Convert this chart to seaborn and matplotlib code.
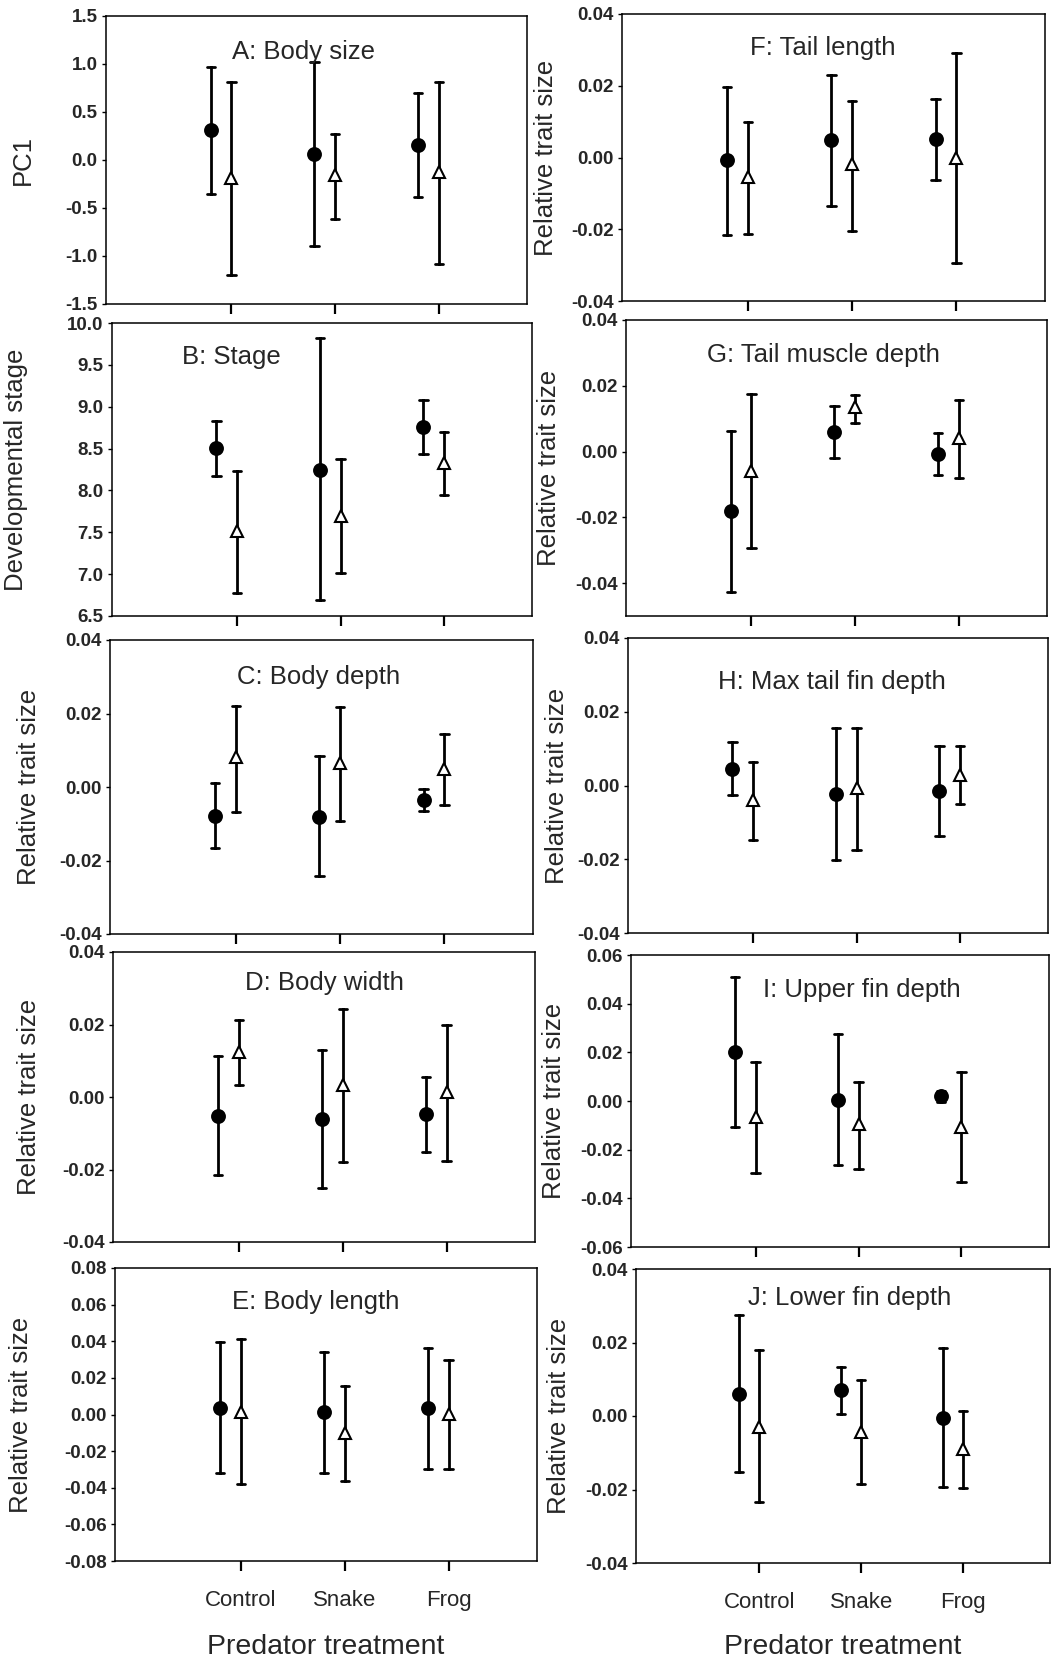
import numpy as np
import pandas as pd
import matplotlib
matplotlib.use("Agg")
import matplotlib.pyplot as plt
import seaborn as sns

# ---------------- data ----------------
categories = ["Control", "Snake", "Frog"]
groups = ["filled", "open"]

# A: Body size (PC1)
A_filled_mean = [0.31, 0.06, 0.16]
A_filled_low = [-0.35, -0.90, -0.39]
A_filled_high = [0.97, 1.02, 0.70]
A_open_mean = [-0.19, -0.16, -0.13]
A_open_low = [-1.20, -0.61, -1.08]
A_open_high = [0.81, 0.27, 0.81]

# B: Stage
B_filled_mean = [8.51, 8.25, 8.76]
B_filled_low = [8.17, 6.69, 8.43]
B_filled_high = [8.83, 9.82, 9.08]
B_open_mean = [7.51, 7.70, 8.33]
B_open_low = [6.77, 7.01, 7.94]
B_open_high = [8.23, 8.37, 8.70]

# C: Body depth
C_filled_mean = [-0.0078, -0.0081, -0.0036]
C_filled_low = [-0.0165, -0.0241, -0.0066]
C_filled_high = [0.0010, 0.0085, -0.0006]
C_open_mean = [0.0081, 0.0066, 0.0049]
C_open_low = [-0.0067, -0.0093, -0.0050]
C_open_high = [0.0220, 0.0217, 0.0143]

# D: Body width
D_filled_mean = [-0.0053, -0.0060, -0.0047]
D_filled_low = [-0.0216, -0.0250, -0.0151]
D_filled_high = [0.0113, 0.0130, 0.0056]
D_open_mean = [0.0124, 0.0033, 0.0013]
D_open_low = [0.0033, -0.0179, -0.0177]
D_open_high = [0.0213, 0.0243, 0.0199]

# E: Body length
E_filled_mean = [0.0036, 0.0012, 0.0036]
E_filled_low = [-0.0322, -0.0318, -0.0298]
E_filled_high = [0.0395, 0.0340, 0.0362]
E_open_mean = [0.0016, -0.0099, 0.0003]
E_open_low = [-0.0377, -0.0362, -0.0295]
E_open_high = [0.0413, 0.0158, 0.0298]

# F: Tail length
F_filled_mean = [-0.0008, 0.0048, 0.0051]
F_filled_low = [-0.0217, -0.0135, -0.0062]
F_filled_high = [0.0197, 0.0229, 0.0164]
F_open_mean = [-0.0055, -0.0019, 0.0000]
F_open_low = [-0.0212, -0.0204, -0.0295]
F_open_high = [0.0100, 0.0157, 0.0290]

# G: Tail muscle depth
G_filled_mean = [-0.0180, 0.0059, -0.0007]
G_filled_low = [-0.0428, -0.0020, -0.0071]
G_filled_high = [0.0064, 0.0140, 0.0056]
G_open_mean = [-0.0059, 0.0134, 0.0041]
G_open_low = [-0.0292, 0.0088, -0.0081]
G_open_high = [0.0174, 0.0172, 0.0157]

# H: Max tail fin depth
H_filled_mean = [0.0045, -0.0023, -0.0014]
H_filled_low = [-0.0025, -0.0202, -0.0136]
H_filled_high = [0.0117, 0.0155, 0.0106]
H_open_mean = [-0.0039, -0.0007, 0.0029]
H_open_low = [-0.0147, -0.0174, -0.0050]
H_open_high = [0.0065, 0.0155, 0.0106]

# I: Upper fin depth
I_filled_mean = [0.0203, 0.0004, 0.0021]
I_filled_low = [-0.0106, -0.0264, -0.0003]
I_filled_high = [0.0509, 0.0275, 0.0041]
I_open_mean = [-0.0065, -0.0096, -0.0106]
I_open_low = [-0.0294, -0.0278, -0.0333]
I_open_high = [0.0159, 0.0080, 0.0118]

# J: Lower fin depth
J_filled_mean = [0.0061, 0.0070, -0.0005]
J_filled_low = [-0.0153, 0.0006, -0.0193]
J_filled_high = [0.0275, 0.0133, 0.0184]
J_open_mean = [-0.0030, -0.0044, -0.0091]
J_open_low = [-0.0233, -0.0184, -0.0197]
J_open_high = [0.0180, 0.0097, 0.0013]

titles = {
    "A": "A: Body size", "B": "B: Stage", "C": "C: Body depth",
    "D": "D: Body width", "E": "E: Body length", "F": "F: Tail length",
    "G": "G: Tail muscle depth", "H": "H: Max tail fin depth",
    "I": "I: Upper fin depth", "J": "J: Lower fin depth",
}
ylabels = {"A": "PC1", "B": "Developmental stage"}
default_ylabel = "Relative trait size"
xlabel_text = "Predator treatment"

yticks_A = [-1.5, -1.0, -0.5, 0.0, 0.5, 1.0, 1.5]
yticks_B = [6.5, 7.0, 7.5, 8.0, 8.5, 9.0, 9.5, 10.0]
yticks_04 = [-0.04, -0.02, 0.00, 0.02, 0.04]
yticks_06 = [-0.06, -0.04, -0.02, 0.00, 0.02, 0.04, 0.06]
yticks_08 = [-0.08, -0.06, -0.04, -0.02, 0.00, 0.02, 0.04, 0.06, 0.08]

data = {
    "A": (A_filled_mean, A_filled_low, A_filled_high, A_open_mean, A_open_low, A_open_high),
    "B": (B_filled_mean, B_filled_low, B_filled_high, B_open_mean, B_open_low, B_open_high),
    "C": (C_filled_mean, C_filled_low, C_filled_high, C_open_mean, C_open_low, C_open_high),
    "D": (D_filled_mean, D_filled_low, D_filled_high, D_open_mean, D_open_low, D_open_high),
    "E": (E_filled_mean, E_filled_low, E_filled_high, E_open_mean, E_open_low, E_open_high),
    "F": (F_filled_mean, F_filled_low, F_filled_high, F_open_mean, F_open_low, F_open_high),
    "G": (G_filled_mean, G_filled_low, G_filled_high, G_open_mean, G_open_low, G_open_high),
    "H": (H_filled_mean, H_filled_low, H_filled_high, H_open_mean, H_open_low, H_open_high),
    "I": (I_filled_mean, I_filled_low, I_filled_high, I_open_mean, I_open_low, I_open_high),
    "J": (J_filled_mean, J_filled_low, J_filled_high, J_open_mean, J_open_low, J_open_high),
}
yaxis_spec = {  # (ylim, ticks, decimals)
    "A": ((-1.5, 1.5), yticks_A, 1),
    "B": ((6.5, 10.0), yticks_B, 1),
    "C": ((-0.04, 0.04), yticks_04, 2),
    "D": ((-0.04, 0.04), yticks_04, 2),
    "E": ((-0.08, 0.08), yticks_08, 2),
    "F": ((-0.04, 0.04), yticks_04, 2),
    "G": ((-0.05, 0.04), yticks_04, 2),
    "H": ((-0.04, 0.04), yticks_04, 2),
    "I": ((-0.06, 0.06), yticks_06, 2),
    "J": ((-0.04, 0.04), yticks_04, 2),
}

# ---------------- layout (pixels in the 1053x1663 canvas) ----------------
W, H, DPI = 1053, 1663, 100
rects = {  # left, top, right, bottom
    "A": (106, 16, 527, 304), "B": (112, 323, 532, 616),
    "C": (110, 640, 533, 934), "D": (113, 952, 535, 1242),
    "E": (115, 1268, 537, 1561),
    "F": (622, 14, 1045, 301), "G": (626, 320, 1047, 616),
    "H": (628, 638, 1048, 933), "I": (631, 955, 1049, 1247),
    "J": (636, 1269, 1050, 1563),
}
title_pos = {  # left x, centre y
    "A": (232, 52), "B": (182, 357), "C": (237, 677), "D": (245, 983),
    "E": (232, 1302), "F": (750, 48), "G": (707, 355), "H": (718, 682),
    "I": (763, 990), "J": (748, 1298),
}
ylabel_x = {"A": 23, "B": 16, "C": 29, "D": 29, "E": 21,
            "F": 546, "G": 549, "H": 557, "I": 554, "J": 559}

sns.set_style("white")
plt.rcParams["font.family"] = ["Liberation Sans", "DejaVu Sans"]
plt.rcParams["axes.unicode_minus"] = False

fig = plt.figure(figsize=(W / DPI, H / DPI), dpi=DPI)
fig.patch.set_facecolor("white")

DODGE = 0.2
XLIM = (-1.21 + DODGE / 2, 2.85 + DODGE / 2)


def make_df(fm, fl, fh, om, ol, oh):
    rows = []
    for i, c in enumerate(categories):
        for g, trio in zip(groups, [(fl[i], fm[i], fh[i]), (ol[i], om[i], oh[i])]):
            for v in trio:
                rows.append({"treatment": c, "group": g, "value": v})
    return pd.DataFrame(rows)


for key in "ABCDEFGHIJ":
    l, t, r, b = rects[key]
    ax = fig.add_axes([l / W, 1 - b / H, (r - l) / W, (b - t) / H])
    df = make_df(*data[key])
    sns.pointplot(
        data=df, x="treatment", y="value", hue="group",
        order=categories, hue_order=groups,
        estimator="median", errorbar=lambda v: (np.min(v), np.max(v)),
        dodge=DODGE, markers=["o", "^"], linestyles="none",
        palette=["black", "black"], capsize=0.08,
        err_kws={"linewidth": 2.0, "color": "black"},
        markersize=9.5, markeredgewidth=1.2,
        legend=False, ax=ax,
    )
    for ln in ax.lines:
        m = ln.get_marker()
        if m == "^":
            ln.set_markerfacecolor("white")
            ln.set_markeredgecolor("black")
            ln.set_markersize(8.5)
            ln.set_markeredgewidth(1.5)
            ln.set_zorder(6)
        elif m == "o":
            ln.set_zorder(5)

    ylim, ticks, dec = yaxis_spec[key]
    ax.set_ylim(*ylim)
    ax.set_yticks(ticks, labels=[f"{v:.{dec}f}" for v in ticks],
                  fontsize=13.5, fontweight="bold")
    ax.set_xlim(*XLIM)
    xt = [i + DODGE / 2 for i in range(len(categories))]
    if key in ("E", "J"):
        ax.set_xticks(xt, labels=categories, fontsize=16)
        ax.set_xlabel(xlabel_text, fontsize=20.5)
        hpx = b - t
        ax.xaxis.set_label_coords(0.5, -(1647 - b) / hpx)
        ax.xaxis.label.set_va("center")
    else:
        ax.set_xticks(xt, labels=[])
        ax.set_xlabel("")
    ax.tick_params(axis="x", direction="out", length=7, width=1.6, pad=14,
                   color="black", bottom=True)
    ax.tick_params(axis="y", direction="out", length=3, width=1.0, pad=3,
                   color="black", left=True)
    ax.set_ylabel(ylabels.get(key, default_ylabel), fontsize=18.5)
    ax.yaxis.label.set_va("center")
    ax.yaxis.set_label_coords((ylabel_x[key] - l) / (r - l), 0.5)
    for s in ax.spines.values():
        s.set_visible(True)
        s.set_color("black")
        s.set_linewidth(1.1)
    ax.set_facecolor("white")
    tx, ty = title_pos[key]
    fig.text(tx / W, 1 - ty / H, titles[key], fontsize=18.5,
             ha="left", va="center")

fig.savefig("out.png", dpi=DPI, facecolor="white")
